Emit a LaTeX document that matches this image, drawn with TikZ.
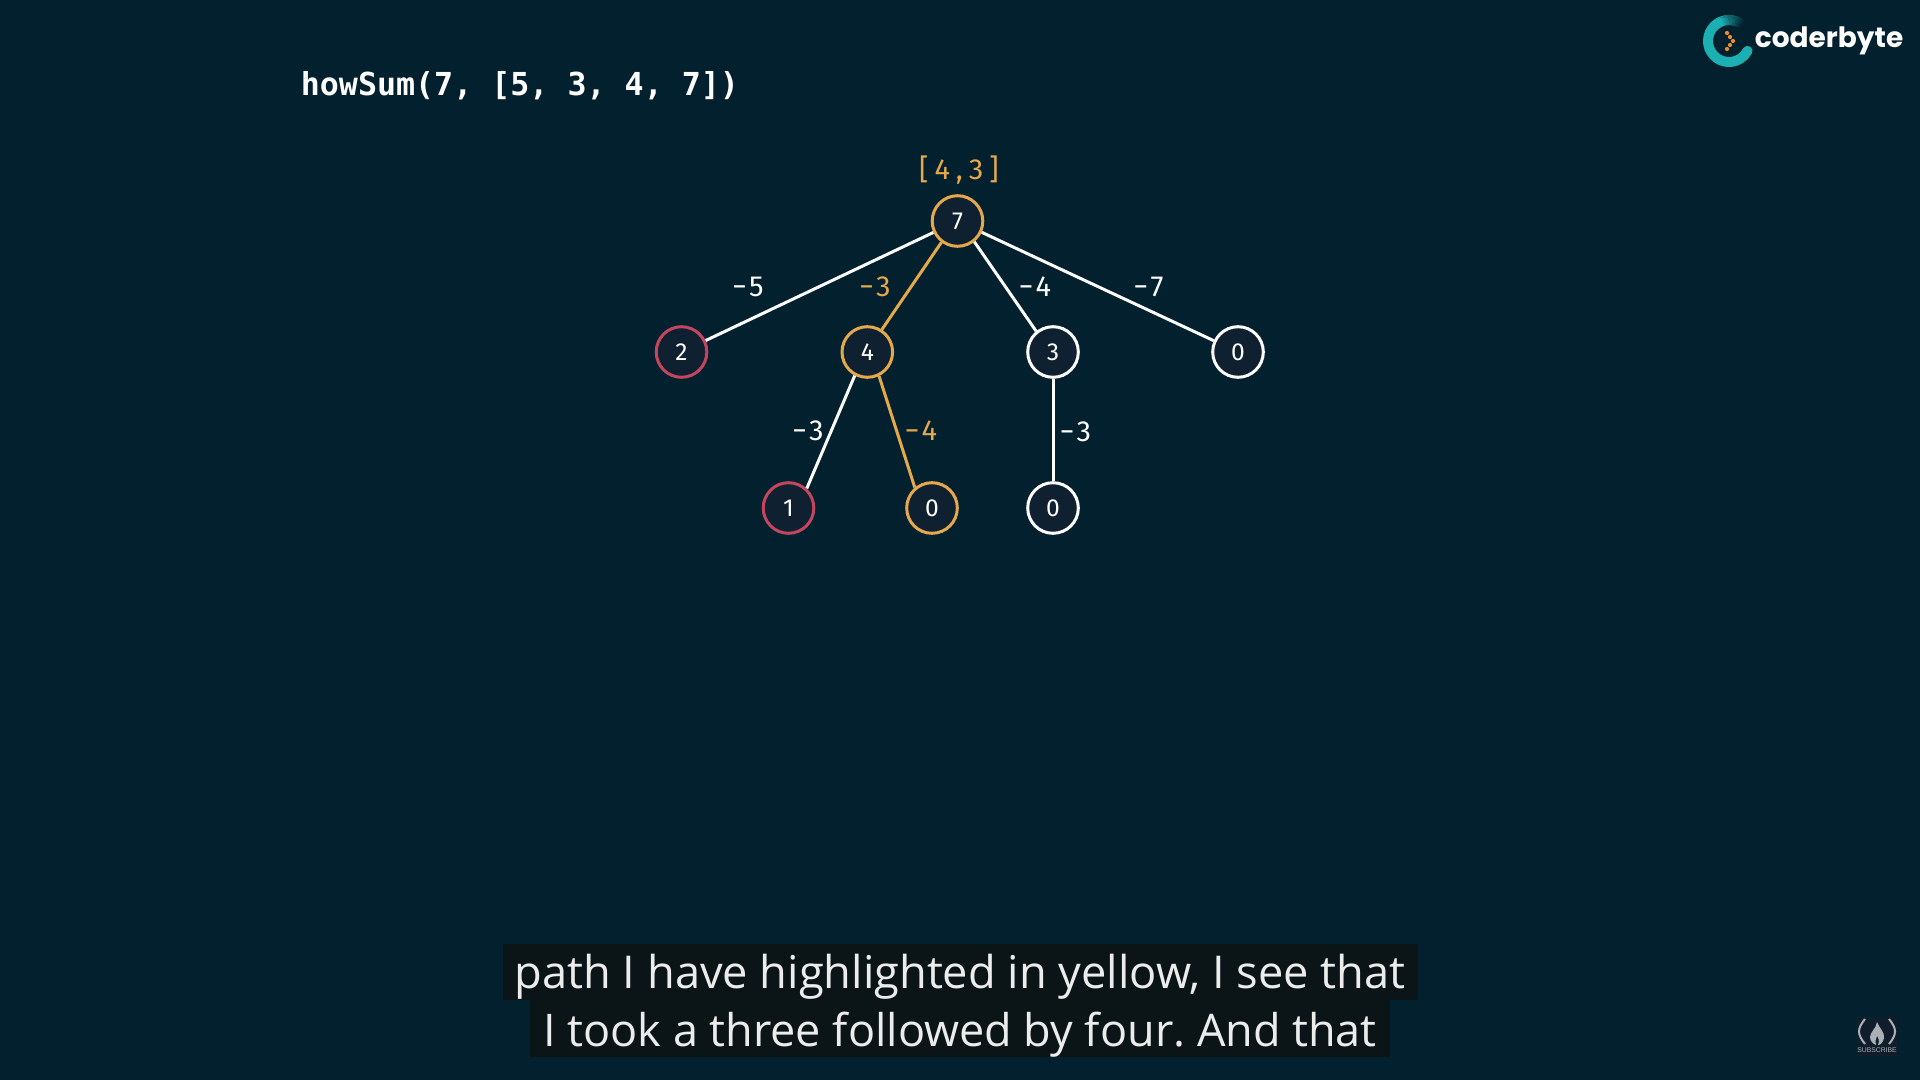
\documentclass[tikz,border=0pt]{standalone}
\usepackage{fontspec}
\usepackage{graphicx}
\setmainfont{Fira Sans}
\newfontfamily\codefont{DejaVu Sans Mono}
\newfontfamily\capfont{Open Sans}
\newfontfamily\logofont{Poppins}
\newfontfamily\subfont{Liberation Sans}
\definecolor{bgc}{RGB}{2,32,46}
\definecolor{nodefill}{RGB}{15,32,48}
\definecolor{goldc}{RGB}{229,169,76}
\definecolor{redc}{RGB}{196,70,94}
\definecolor{capbox}{RGB}{11,21,24}
\definecolor{captext}{RGB}{236,236,236}
\definecolor{tealc}{RGB}{28,176,178}
\definecolor{dotc}{RGB}{232,140,48}
\definecolor{subgray}{RGB}{170,176,182}
\definecolor{subbox}{RGB}{16,30,44}
\newcommand{\mn}{−\kern1.2pt}
\tikzset{
  x=0.5pt,y=-0.5pt,
  tn/.style={circle,draw=white,fill=nodefill,line width=1.5pt,minimum size=25.3pt,inner sep=0pt,text=white,font=\fontsize{12.3}{12}\selectfont},
  tngold/.style={tn,draw=goldc},
  tnred/.style={tn,draw=redc},
  edge/.style={draw=white,line width=1.5pt},
  edgegold/.style={draw=goldc,line width=1.5pt},
  elabel/.style={text=white,inner sep=0pt,font=\fontsize{14.5}{15}\selectfont},
  elabelgold/.style={elabel,text=goldc},
}
\begin{document}
\begin{tikzpicture}
\useasboundingbox (0,0) rectangle (1920,1080);
\fill[bgc] (0,0) rectangle (1920,1080);
% title
\node[text=white,inner sep=0pt,anchor=west,font=\codefont\bfseries\fontsize{15.82}{16}\selectfont] (title) at (300.5,86) {howSum(7, [5, 3, 4, 7])};
% result
\node[text=goldc,inner sep=0pt,font=\fontsize{14.5}{15}\selectfont] (res) at (959,170) {[\kern3pt 4\kern3pt,\kern3pt 3\kern3pt]};
% tree nodes
\node[tngold] (n7) at (957.5,221) {7};
\node[tnred] (a2) at (681.5,352) {2};
\node[tngold] (a4) at (867.3,352) {4};
\node[tn] (a3) at (1053,352) {3};
\node[tn] (a0) at (1238,352) {0};
\node[tnred] (b1) at (788.5,508) {1};
\node[tngold] (b0) at (932,508) {0};
\node[tn] (c0) at (1053,508) {0};
% connectors
\draw[edge] (n7) -- (a2);
\draw[edgegold] (n7.233) -- (a4.57);
\draw[edge] (n7.309) -- (a3.129);
\draw[edge] (n7) -- (a0);
\draw[edge] (a4.242) -- (b1.47);
\draw[edgegold] (a4.296) -- (b0.130);
\draw[edge] (a3) -- (c0);
% labels
\node[elabel] (l5) at (748,287) {\mn 5};
\node[elabelgold] (l3) at (875,287) {\mn 3};
\node[elabel] (l4) at (1035,287) {\mn 4};
\node[elabel] (l7) at (1148.5,287) {\mn 7};
\node[elabel] (m3) at (808,431) {\mn 3};
\node[elabelgold] (m4) at (921,431) {\mn 4};
\node[elabel] (r3) at (1075.5,432) {\mn 3};
% captions
\fill[capbox] (503,944) rectangle (1418,1000);
\fill[capbox] (530,1000) rectangle (1390,1057);
\node[text=captext,inner sep=0pt,font=\capfont\fontsize{22.6}{24}\selectfont] (cap1) at (960,979) {\frenchspacing\strut path I have highlighted in yellow, I see that};
\node[text=captext,inner sep=0pt,font=\capfont\fontsize{22.5}{24}\selectfont] (cap2) at (960,1036) {\frenchspacing\strut I took a three followed by four. And that};
% coderbyte logo
\foreach \i in {0,...,29}{
  \pgfmathsetmacro{\sa}{50+\i*2.4}
  \pgfmathsetmacro{\mixv}{min(100,\i*4)}
  \draw[color=tealc!\mixv!bgc,line width=5pt] ({1729+21*cos(\sa)},{41-21*sin(\sa)}) arc[start angle=-\sa,end angle=-\sa-3,radius=21];
}
\draw[tealc,line width=5pt,line cap=round] ({1729+21*cos(122)},{41-21*sin(122)}) arc[start angle=-122,end angle=-332,radius=21];
\foreach \px/\py in {1727/33,1730/37,1733/41,1730/45,1727/49}{
  \fill[dotc] (\px,\py) circle[radius=2.1];
}
\node[text=white,inner sep=0pt,anchor=west,font=\logofont\bfseries\fontsize{14}{15}\selectfont] (logo) at (1754.5,41) {coderbyte};
% subscribe mark
\fill[subbox] (1857,1017) rectangle (1897,1056);
\draw[subgray,line width=1pt] (1865,1019) .. controls (1857,1029) and (1857,1034) .. (1865,1044);
\draw[subgray,line width=1pt] (1889,1019) .. controls (1897,1029) and (1897,1034) .. (1889,1044);
\fill[subgray] (1877,1022) .. controls (1879,1028) and (1885,1032) .. (1884,1038) .. controls (1883,1043) and (1880,1045) .. (1878,1045) .. controls (1880,1041) and (1878,1037) .. (1877,1036) .. controls (1876,1038) and (1875,1041) .. (1876,1045) .. controls (1873,1044) and (1870,1041) .. (1870,1037) .. controls (1870,1032) and (1876,1029) .. (1877,1022) -- cycle;
\node[text=subgray,inner sep=0pt,font=\subfont\fontsize{3.4}{4}\selectfont] (subs) at (1877,1050) {SUBSCRIBE};
\end{tikzpicture}
\end{document}
